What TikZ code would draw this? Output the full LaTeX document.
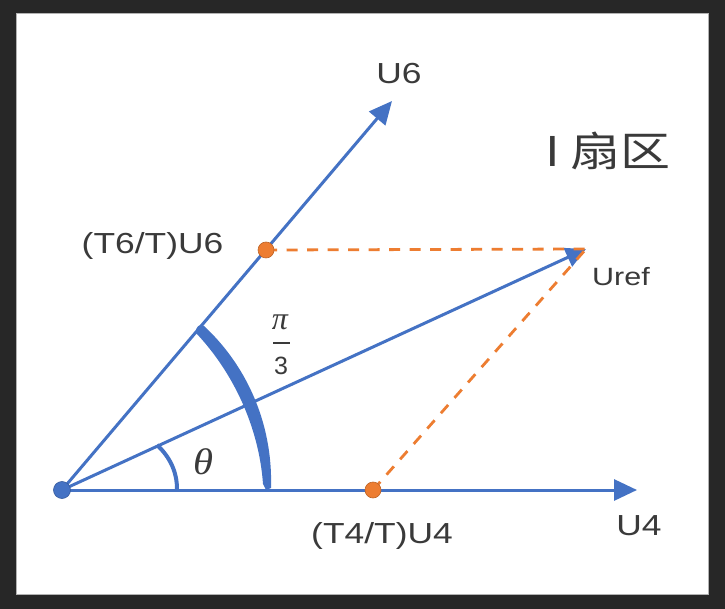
\documentclass[tikz,border=0pt]{standalone}
\usepackage{graphicx}
\usepackage{fontspec}
\setmainfont{Liberation Sans}
\newfontfamily\cjk{Noto Sans CJK SC}
\newfontfamily\serifgreek{Liberation Serif}
\usetikzlibrary{arrows.meta}

\definecolor{vecblue}{HTML}{4472C4}
\definecolor{projorange}{HTML}{ED7D31}
\definecolor{txtgray}{HTML}{3A3A3A}
\definecolor{boarddark}{HTML}{272727}
\newcommand{\stretchx}[1]{\scalebox{1.22}[1]{#1}}

\begin{document}
\begin{tikzpicture}[x=1pt,y=-1pt]
      \tikzset{vec/.style={draw=vecblue, line width=3pt,
          -{Triangle[length=23pt,width=21pt]}},
        proj/.style={draw=projorange, line width=2.8pt,
          dash pattern=on 11pt off 9.5pt},
        mark dot/.style={inner sep=0pt,
          outer sep=0pt,
          minimum size=16pt,
          fill=#1, draw=#1!80!black, line width=0.6pt,
          circle},
        lbl/.style={text=txtgray, inner sep=0pt, anchor=base,
          font=\fontsize{29}{34}\selectfont}
      }
      % board and white sheet
      \fill [boarddark] (0,0) rectangle (725,609);
      \fill [white, draw=black!30, line width=0.8pt] (16,13) rectangle (708,594);
      \coordinate (O) at (62,490);
      \coordinate (U4end) at (637,490);
      \coordinate (U6end) at (392,101);
      \coordinate (Urefend) at (586,249);
      \coordinate (P6) at (266,250);
      \coordinate (P4) at (373,490);
      \draw [vec] (O)--(U4end);
      \draw [vec] (O)--(U6end);
      \draw [vec, -{Triangle[length=20pt,width=20pt]}] (O)--(Urefend);
      \draw [proj] (P6)--(Urefend);
      \draw [proj] (P4)--(Urefend);
      % angle marks
      \draw [vecblue, line width=4pt] (157,445) .. controls (170,457) and (177,472) .. (177,489);
      \fill [vecblue] (204,326) .. controls (244,363) and (273,420) .. (271,488)
        -- (266,490) -- (263,484) .. controls (259,427) and (233,372) .. (196,333)
        .. controls (195,327) and (200,323) .. (204,326) -- cycle;
      \node [mark dot=vecblue, minimum size=17pt] (Odot) at (O) {};
      \node [mark dot=projorange] (P6dot) at (P6) {};
      \node [mark dot=projorange] (P4dot) at (P4) {};
      % labels
      \node [lbl] (lblU6) at (399,84) {\stretchx{U6}};
      \node [lbl] (lblU4) at (639,535) {\stretchx{U4}};
      \node [lbl] (lblP6) at (152.5,254) {\stretchx{(T6/T)U6}};
      \node [lbl] (lblP4) at (382,543) {\stretchx{(T4/T)U4}};
      \node [lbl, font=\fontsize{25}{30}\selectfont] (lblUref) at (621,286) {\stretchx{Uref}};
      \node [lbl, font=\fontsize{41}{46}\cjk] (sector) at (608,167) {\stretchx{I 扇区}};
      \node [lbl, font=\fontsize{37}{42}\serifgreek\itshape] (theta) at (203,474) {\scalebox{1.1}[1]{θ}};
      \node [lbl, font=\fontsize{32}{36}\serifgreek\itshape] (pinum) at (280,330) {π};
      \node [fill=txtgray, inner sep=0pt, minimum width=17pt, minimum height=1.6pt] (pibar) at (281.5,343) {};
      \node [lbl, font=\fontsize{25}{30}\selectfont] (piden) at (281,374) {3};
\end{tikzpicture}
\end{document}
